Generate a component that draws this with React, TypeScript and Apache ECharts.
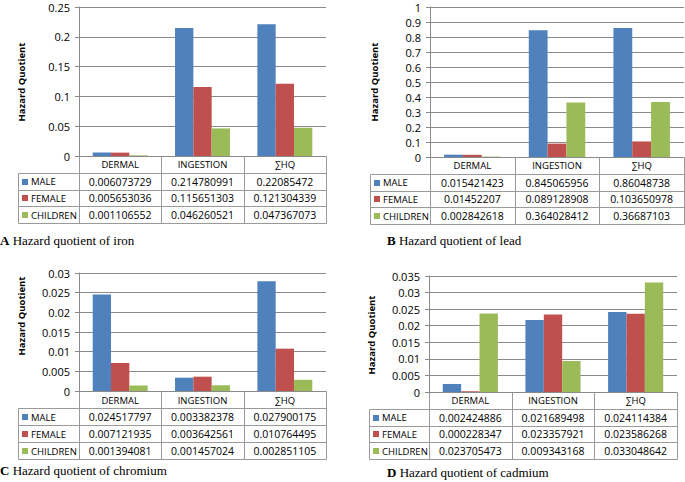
import React, { useEffect, useRef } from "react";
import * as echarts from "echarts";

const categories = ["DERMAL", "INGESTION", "∑HQ"];
const seriesNames = ["MALE", "FEMALE", "CHILDREN"];
const seriesColors = ["#4F81BD", "#C0504D", "#9BBB59"];

// A: iron
const ironMale = [0.006073729, 0.214780991, 0.22085472];
const ironFemale = [0.005653036, 0.115651303, 0.121304339];
const ironChildren = [0.001106552, 0.046260521, 0.047367073];
// B: lead
const leadMale = [0.015421423, 0.845065956, 0.86048738];
const leadFemale = [0.01452207, 0.089128908, 0.103650978];
const leadChildren = [0.002842618, 0.364028412, 0.36687103];
// C: chromium
const chromMale = [0.024517797, 0.003382378, 0.027900175];
const chromFemale = [0.007121935, 0.003642561, 0.010764495];
const chromChildren = [0.001394081, 0.001457024, 0.002851105];
// D: cadmium
const cadMale = [0.002424886, 0.021689498, 0.024114384];
const cadFemale = [0.000228347, 0.023357921, 0.023586268];
const cadChildren = [0.023705473, 0.009343168, 0.033048642];

const yMaxes = [0.25, 1, 0.03, 0.035];
const yIntervals = [0.05, 0.1, 0.005, 0.005];
const captionLetters = ["A", "B", "C", "D"];
const captionTexts = [
  "Hazard quotient of iron",
  "Hazard quotient of lead",
  "Hazard quotient of chromium",
  "Hazard quotient of cadmium",
];
const yTitle = "Hazard Quotient";

const panelData = [
  [ironMale, ironFemale, ironChildren],
  [leadMale, leadFemale, leadChildren],
  [chromMale, chromFemale, chromChildren],
  [cadMale, cadFemale, cadChildren],
];

// layout (pixels)
const layouts = [
  { left: 79, right: 326, top: 7, bottom: 156, tableLeft: 18, rowH: 16.75, titleX: 21, titleY: 82, capX: 0, capY: 240 },
  { left: 430, right: 684, top: 7, bottom: 157, tableLeft: 370, rowH: 16.75, titleX: 374, titleY: 82, capX: 387, capY: 240 },
  { left: 79, right: 326, top: 273, bottom: 391, tableLeft: 18, rowH: 17, titleX: 21, titleY: 316, capX: 0, capY: 470 },
  { left: 429, right: 677, top: 276, bottom: 392, tableLeft: 369, rowH: 16.75, titleX: 371, titleY: 335, capX: 387, capY: 472 },
];

const GRID_COLOR = "#8a8a8a";
const TABLE_COLOR = "#9a9a9a";
const FONT = "'Open Sans', 'Liberation Sans', sans-serif";
const NUM_FONT = `10.5px ${FONT}`;
const CAPS_FONT = `9.5px ${FONT}`;

function px(v: number) {
  return Math.round(v) + 0.5;
}

function buildTable(p: number) {
  const L = layouts[p];
  const els: any[] = [];
  const w = L.right - L.left;
  const colW = w / categories.length;
  const y0 = L.bottom;
  const rows = seriesNames.length + 1;
  const yEnd = y0 + rows * L.rowH;
  const line = (x1: number, y1: number, x2: number, y2: number) => ({
    type: "line",
    silent: true,
    shape: { x1, y1, x2, y2 },
    style: { stroke: TABLE_COLOR, lineWidth: 1 },
  });
  for (let i = 0; i <= categories.length; i++) {
    const x = px(L.left + i * colW);
    els.push(line(x, px(y0), x, px(yEnd)));
  }
  els.push(line(px(L.tableLeft), px(y0 + L.rowH), px(L.tableLeft), px(yEnd)));
  for (let r = 1; r <= rows; r++) {
    const y = px(y0 + r * L.rowH);
    els.push(line(px(L.tableLeft), y, px(L.right), y));
  }
  categories.forEach((c, i) => {
    els.push({
      type: "text",
      silent: true,
      x: L.left + (i + 0.5) * colW,
      y: y0 + L.rowH / 2 + 0.5,
      style: { text: c, fill: "#000", font: CAPS_FONT, align: "center", verticalAlign: "middle" },
    });
  });
  seriesNames.forEach((s, r) => {
    const cy = y0 + (r + 1.5) * L.rowH + 0.5;
    els.push({
      type: "rect",
      silent: true,
      shape: { x: L.tableLeft + 4, y: Math.round(cy) - 3, width: 6, height: 6 },
      style: { fill: seriesColors[r] },
    });
    els.push({
      type: "text",
      silent: true,
      x: L.tableLeft + 13,
      y: cy,
      style: { text: s, fill: "#000", font: CAPS_FONT, align: "left", verticalAlign: "middle" },
    });
    panelData[p][r].forEach((v, i) => {
      els.push({
        type: "text",
        silent: true,
        x: L.left + (i + 0.5) * colW,
        y: cy,
        style: { text: String(v), fill: "#000", font: NUM_FONT, align: "center", verticalAlign: "middle" },
      });
    });
  });
  els.push({
    type: "text",
    silent: true,
    x: L.titleX,
    y: L.titleY,
    rotation: Math.PI / 2,
    style: { text: yTitle, fill: "#000", font: `bold 9.5px ${FONT}`, align: "center", verticalAlign: "middle" },
  });
  els.push({
    type: "text",
    silent: true,
    x: L.capX,
    y: L.capY,
    style: {
      text: `{b|${captionLetters[p]}} ${captionTexts[p]}`,
      fill: "#000",
      font: `13px 'Liberation Serif', 'Times New Roman', serif`,
      align: "left",
      verticalAlign: "middle",
      rich: { b: { fontWeight: "bold", fontSize: 13, fontFamily: "'Liberation Serif', serif" } },
    },
  });
  return els;
}

export default function App() {
  const ref = useRef<HTMLDivElement>(null);
  useEffect(() => {
    document.body.style.margin = "0";
    if (!ref.current) return;
    const chart = echarts.init(ref.current, undefined, { renderer: "svg" });
    const grids = layouts.map((L) => ({
      left: L.left,
      top: L.top,
      width: L.right - L.left,
      height: L.bottom - L.top,
      containLabel: false,
    }));
    const xAxes = layouts.map((_, i) => ({
      type: "category",
      gridIndex: i,
      data: categories,
      axisLine: { show: true, lineStyle: { color: GRID_COLOR } },
      axisTick: { show: false },
      axisLabel: { show: false },
    }));
    const yAxes = layouts.map((_, i) => ({
      type: "value",
      gridIndex: i,
      min: 0,
      max: yMaxes[i],
      interval: yIntervals[i],
      axisLine: { show: true, lineStyle: { color: GRID_COLOR } },
      axisTick: { show: true, length: 4, lineStyle: { color: GRID_COLOR } },
      splitLine: { show: true, lineStyle: { color: GRID_COLOR, width: 1 } },
      axisLabel: {
        color: "#000",
        fontSize: 11,
        fontFamily: FONT,
        margin: 9,
        formatter: (v: number) => String(+v.toFixed(4)),
      },
    }));
    const series: any[] = [];
    panelData.forEach((group, p) => {
      group.forEach((vals, s) => {
        series.push({
          type: "bar",
          name: seriesNames[s],
          xAxisIndex: p,
          yAxisIndex: p,
          data: vals,
          barGap: "0%",
          barCategoryGap: "33.3%",
          itemStyle: { color: seriesColors[s] },
        });
      });
    });
    const graphic = layouts.flatMap((_, p) => buildTable(p));
    chart.setOption({
      animation: false,
      backgroundColor: "#fff",
      grid: grids,
      xAxis: xAxes,
      yAxis: yAxes,
      series,
      graphic,
    });
    return () => chart.dispose();
  }, []);
  return <div ref={ref} style={{ position: "fixed", left: 0, top: 0, width: 685, height: 482 }} />;
}
